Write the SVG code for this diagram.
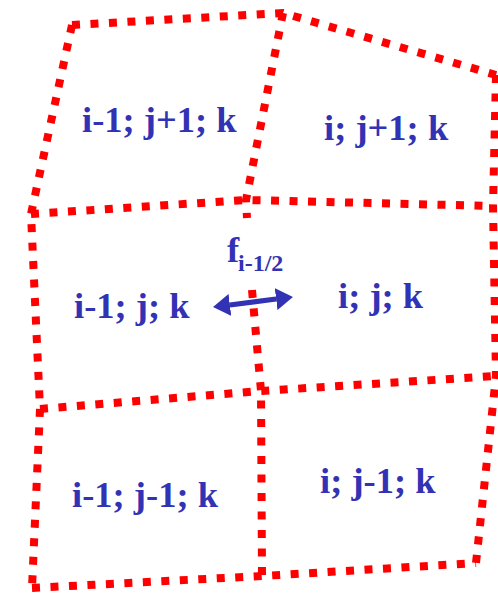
<svg xmlns="http://www.w3.org/2000/svg" width="498" height="593" viewBox="0 0 498 593">
<style>
.g{fill:none;stroke:#ff0000;stroke-width:8;stroke-dasharray:8 10.5;stroke-linecap:butt;stroke-linejoin:miter}
.t{font-family:"Liberation Serif","Times New Roman",serif;font-weight:bold;font-size:36.5px;fill:#3232b4}
.s{font-size:24px}
.a{stroke:#3232b4;stroke-width:5;fill:none}
</style>
<defs>
<marker id="head" viewBox="0 0 17 22" markerWidth="17" markerHeight="22" refX="0" refY="11" orient="auto-start-reverse" markerUnits="userSpaceOnUse">
<path d="M0,0 L17,11 L0,22 z" fill="#3232b4"/>
</marker>
</defs>
<g id="grid">
<polyline class="g" points="72,25 283,13 496,75"/>
<polyline class="g" points="31,214 246,200 493,206"/>
<polyline class="g" points="40,409 261,391 496,376"/>
<polyline class="g" points="32,588 262,576 476,563"/>
<polyline class="g" points="72,25 31,214 40,409 32,588"/>
<polyline class="g" points="283,13 246,200 247,218"/>
<polyline class="g" points="252,290 261,391 262,576"/>
<polyline class="g" points="496,75 493,206 496,376 476,563"/>
</g>
<g id="cell-im1-jp1"><text class="t" x="82" y="132">i-1; j+1; k</text></g>
<g id="cell-i-jp1"><text class="t" x="324" y="140">i; j+1; k</text></g>
<g id="cell-im1-j"><text class="t" x="74" y="318">i-1; j; k</text></g>
<g id="cell-i-j"><text class="t" x="338" y="308">i; j; k</text></g>
<g id="cell-im1-jm1"><text class="t" x="72" y="507">i-1; j-1; k</text></g>
<g id="cell-i-jm1"><text class="t" x="320" y="493">i; j-1; k</text></g>
<g id="flux-label"><text class="t" x="227" y="262">f<tspan class="s" x="238" y="271">i-1/2</tspan></text></g>
<g id="connectors">
<line class="a" x1="229.9" y1="304.9" x2="276.1" y2="299.1" marker-start="url(#head)" marker-end="url(#head)"/>
</g>
</svg>
